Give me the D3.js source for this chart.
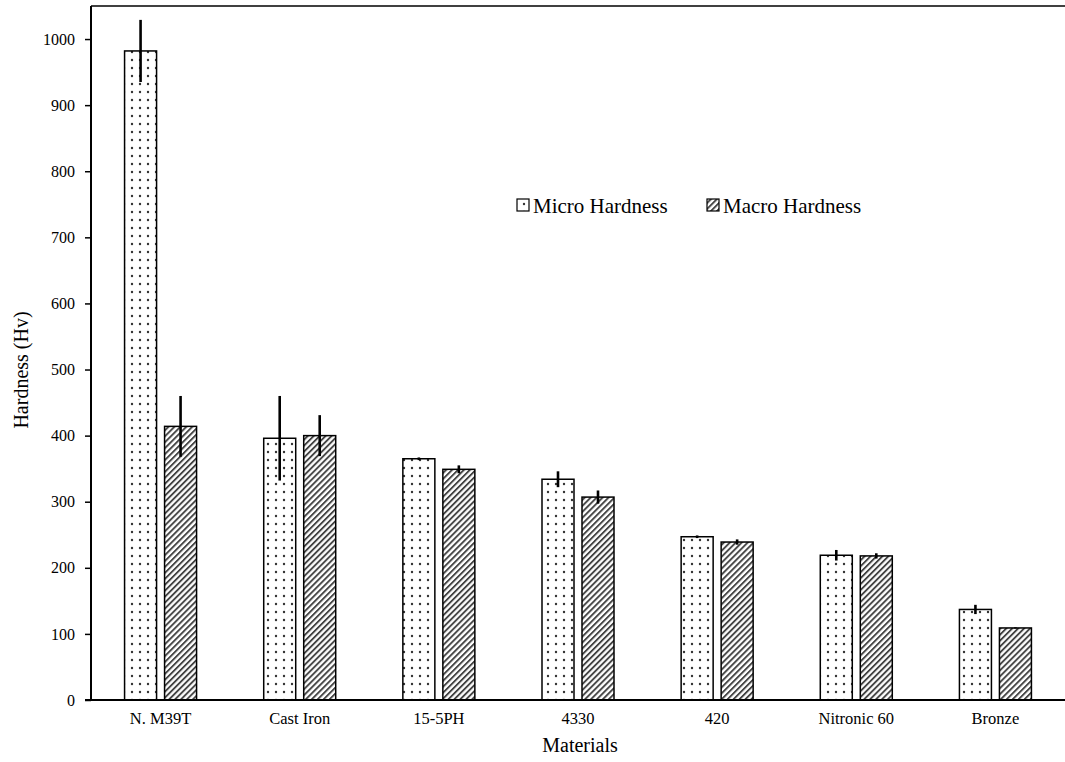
<!DOCTYPE html>
<html>
<head>
<meta charset="utf-8">
<script src="https://cdn.jsdelivr.net/npm/d3@7"></script>
<style>
  html, body { margin: 0; padding: 0; background: #fff; }
  svg { display: block; }
</style>
</head>
<body>
<svg id="chart" width="1065" height="762"></svg>
<script>
const categories = ["N. M39T", "Cast Iron", "15-5PH", "4330", "420", "Nitronic 60", "Bronze"];
const seriesNames = ["Micro Hardness", "Macro Hardness"];
const microValues = [982, 396, 365, 334, 247, 219, 137];
const microErrors = [47, 64, 2, 12, 2, 8, 7];
const macroValues = [414, 400, 349, 307, 239, 218, 109];
const macroErrors = [46, 31, 6, 10, 4, 4, 1];
const yTicks = [0, 100, 200, 300, 400, 500, 600, 700, 800, 900, 1000];

const FONT = "'Liberation Serif', 'Times New Roman', serif";
const svg = d3.select("#chart");
const mLeft = 91, mRight = 1065, mTop = 6, mBottom = 700;

const defs = svg.append("defs");
const dots = defs.append("pattern").attr("id", "dots").attr("patternUnits", "userSpaceOnUse")
  .attr("width", 8).attr("height", 8);
dots.append("rect").attr("width", 8).attr("height", 8).attr("fill", "#fff");
dots.append("circle").attr("cx", 4).attr("cy", 4).attr("r", 1.2).attr("fill", "#333");
const hatch = defs.append("pattern").attr("id", "hatch").attr("patternUnits", "userSpaceOnUse")
  .attr("width", 4.2).attr("height", 4.2).attr("patternTransform", "rotate(45)");
hatch.append("rect").attr("width", 4.2).attr("height", 4.2).attr("fill", "#fff");
hatch.append("rect").attr("x", 0).attr("y", 0).attr("width", 1.9).attr("height", 4.2).attr("fill", "#444");

const x = d3.scaleBand().domain(categories).range([mLeft, mRight]).paddingInner(0).paddingOuter(0);
const bw = x.bandwidth();
const x1 = d3.scaleBand().domain(seriesNames).range([bw / 2 - 36, bw / 2 + 36]).paddingInner(0.2).paddingOuter(0);
const y = d3.scaleLinear().domain([0, 1050]).range([mBottom, mTop]);

const data = [];
categories.forEach((c, i) => {
  data.push({cat: c, s: seriesNames[0], v: microValues[i], e: microErrors[i], fill: "url(#dots)"});
  data.push({cat: c, s: seriesNames[1], v: macroValues[i], e: macroErrors[i], fill: "url(#hatch)"});
});

svg.append("g").selectAll("rect").data(data).join("rect")
  .attr("x", d => x(d.cat) + x1(d.s))
  .attr("y", d => y(d.v))
  .attr("width", x1.bandwidth())
  .attr("height", d => y(0) - y(d.v))
  .attr("fill", d => d.fill)
  .attr("stroke", "#000")
  .attr("stroke-width", 1.5);

svg.append("g").selectAll("line").data(data).join("line")
  .attr("x1", d => x(d.cat) + x1(d.s) + x1.bandwidth() / 2)
  .attr("x2", d => x(d.cat) + x1(d.s) + x1.bandwidth() / 2)
  .attr("y1", d => y(d.v + d.e))
  .attr("y2", d => y(d.v - d.e))
  .attr("stroke", "#000")
  .attr("stroke-width", 2.6);

svg.append("line").attr("x1", mLeft).attr("x2", mRight).attr("y1", mTop).attr("y2", mTop)
  .attr("stroke", "#404040").attr("stroke-width", 2);

const yAxis = svg.append("g").attr("transform", `translate(${mLeft},0)`)
  .call(d3.axisLeft(y).tickValues(yTicks).tickSize(6).tickPadding(10).tickFormat(d3.format("d")));
yAxis.attr("font-family", FONT).attr("font-size", 16);
yAxis.select(".domain").attr("d", `M0,${mTop}V${mBottom}`).attr("stroke", "#000").attr("stroke-width", 2);
yAxis.selectAll(".tick line").attr("stroke", "#000").attr("stroke-width", 1.5);
yAxis.selectAll(".tick text").attr("fill", "#000");

const xAxis = svg.append("g").attr("transform", `translate(0,${mBottom})`)
  .call(d3.axisBottom(x).tickSize(0).tickPadding(12));
xAxis.attr("font-family", FONT).attr("font-size", 16.5);
xAxis.select(".domain").attr("d", `M${mLeft - 6},0H${mRight}`).attr("stroke", "#000").attr("stroke-width", 2);
xAxis.selectAll(".tick text").attr("fill", "#000");

svg.append("text").attr("x", (mLeft + mRight) / 2 + 2).attr("y", 752).attr("text-anchor", "middle")
  .attr("font-family", FONT).attr("font-size", 20).text("Materials");
svg.append("text").attr("transform", "translate(28,370) rotate(-90)").attr("text-anchor", "middle")
  .attr("font-family", FONT).attr("font-size", 20).text("Hardness (Hv)");

const legend = [{name: seriesNames[0], fill: "url(#dots)", lx: 517}, {name: seriesNames[1], fill: "url(#hatch)", lx: 707}];
const lg = svg.append("g").selectAll("g").data(legend).join("g");
lg.append("rect").attr("x", d => d.lx).attr("y", 199).attr("width", 12).attr("height", 12)
  .attr("fill", d => d.fill).attr("stroke", "#000").attr("stroke-width", 1.2);
lg.append("text").attr("x", d => d.lx + 16).attr("y", 213)
  .attr("font-family", FONT).attr("font-size", 21).text(d => d.name);
</script>
</body>
</html>
